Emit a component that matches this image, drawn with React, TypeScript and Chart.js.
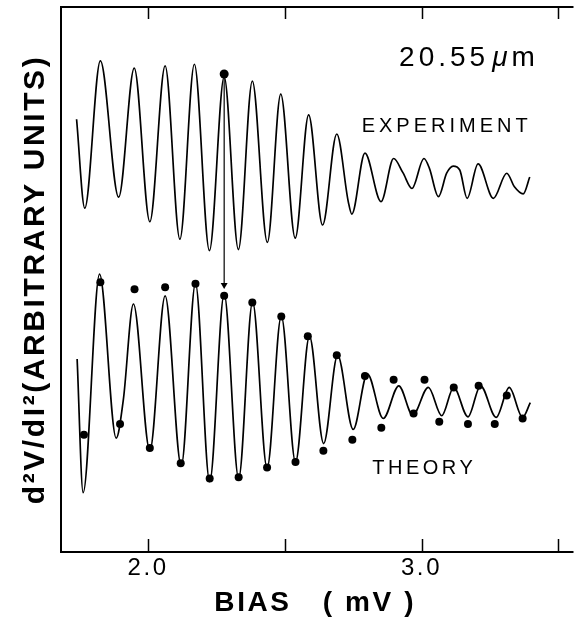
import React, { useEffect, useRef } from "react";
import { Chart, registerables } from "chart.js";

Chart.register(...registerables);

// ---- Data (bias in mV, signal in arbitrary units) ----
const experimentX = [1.738, 1.768, 1.825, 1.892, 1.949, 2.006, 2.062, 2.116, 2.169, 2.224, 2.278, 2.330, 2.381, 2.436, 2.485, 2.538, 2.587, 2.638, 2.690, 2.732, 2.745, 2.793, 2.852, 2.898, 2.932, 2.965, 3.009, 3.029, 3.062, 3.092, 3.116, 3.140, 3.167, 3.207, 3.263, 3.312, 3.340, 3.372, 3.396];
const experimentY = [7.94, 6.31, 9.01, 6.51, 8.88, 6.06, 8.92, 5.74, 8.95, 5.53, 8.72, 5.55, 8.64, 5.68, 8.40, 5.76, 8.02, 6.00, 7.67, 6.43, 6.20, 7.32, 6.43, 7.22, 6.96, 6.67, 7.22, 7.04, 6.52, 6.95, 7.08, 7.01, 6.49, 7.12, 6.49, 6.95, 6.70, 6.57, 6.88];

const theoryX = [1.740, 1.762, 1.822, 1.883, 1.909, 1.946, 2.006, 2.062, 2.121, 2.173, 2.225, 2.278, 2.331, 2.382, 2.435, 2.487, 2.539, 2.590, 2.642, 2.693, 2.750, 2.802, 2.860, 2.917, 2.968, 3.025, 3.074, 3.118, 3.170, 3.216, 3.273, 3.321, 3.370, 3.398];
const theoryY = [3.54, 1.09, 5.10, 2.09, 2.79, 4.55, 1.86, 4.70, 1.58, 4.93, 1.29, 4.73, 1.35, 4.59, 1.54, 4.33, 1.65, 3.96, 1.99, 3.61, 2.25, 3.27, 2.45, 3.05, 2.51, 3.02, 2.50, 3.02, 2.48, 3.05, 2.47, 3.02, 2.47, 2.74];

const theoryDotX = [1.765, 1.825, 1.897, 1.950, 2.006, 2.062, 2.119, 2.173, 2.225, 2.278, 2.331, 2.381, 2.435, 2.487, 2.539, 2.584, 2.641, 2.690, 2.747, 2.793, 2.853, 2.898, 2.971, 3.011, 3.065, 3.118, 3.170, 3.209, 3.268, 3.312, 3.370];
const theoryDotY = [2.15, 4.95, 2.35, 4.82, 1.91, 4.86, 1.63, 4.92, 1.35, 4.70, 1.37, 4.58, 1.55, 4.32, 1.65, 3.96, 1.86, 3.61, 2.06, 3.23, 2.28, 3.16, 2.54, 3.16, 2.39, 3.02, 2.35, 3.05, 2.35, 2.87, 2.45];

const markerX = [2.278];
const markerY = [8.77];

const arrowX = [2.278, 2.278];
const arrowY = [8.77, 4.90];

const xTickValues = [2.0, 2.5, 3.0, 3.5];
const xTickLabels = ["2.0", "", "3.0", ""];

const xTitle = "BIAS   ( mV )";
const yTitle = "d\u00B2V/dI\u00B2(ARBITRARY UNITS)";

// annotation anchors (data units)
const thicknessLabel = { x: 2.918, y: 8.92, main: "20.55", unitMu: "\u03BC", unitM: "m" };
const expLabel = { x: 2.781, y: 7.71, text: "EXPERIMENT" };
const theoryLabel = { x: 2.820, y: 1.44, text: "THEORY" };

const FONT = '"Liberation Sans", Arial, sans-serif';

const toXY = (xs: number[], ys: number[]) => xs.map((v, i) => ({ x: v, y: ys[i] }));

const framePlugin = {
  id: "frameAndText",
  beforeDraw(chart: any) {
    chart.ctx.letterSpacing = "2.6px";
  },
  afterDraw(chart: any) {
    const { ctx, chartArea } = chart;
    const { left, right, top, bottom } = chartArea;
    const xs = chart.scales.x;
    const ys = chart.scales.y;
    ctx.save();
    ctx.letterSpacing = "0px";
    ctx.strokeStyle = "#000";
    ctx.lineWidth = 2;
    ctx.beginPath();
    ctx.moveTo(right + 4, top);
    ctx.lineTo(left, top);
    ctx.lineTo(left, bottom);
    ctx.lineTo(right + 4, bottom);
    ctx.stroke();
    ctx.lineWidth = 1.5;
    ctx.beginPath();
    for (const v of xTickValues) {
      const px = Math.round(xs.getPixelForValue(v)) + 0.5;
      ctx.moveTo(px, bottom);
      ctx.lineTo(px, bottom - 13);
      ctx.moveTo(px, top);
      ctx.lineTo(px, top + 12);
    }
    ctx.stroke();

    ctx.fillStyle = "#000";
    ctx.textAlign = "left";
    ctx.textBaseline = "alphabetic";

    // 20.55 μm
    ctx.font = `28px ${FONT}`;
    ctx.letterSpacing = "4px";
    let px = xs.getPixelForValue(thicknessLabel.x);
    const py = ys.getPixelForValue(thicknessLabel.y);
    ctx.fillText(thicknessLabel.main, px, py);
    px += ctx.measureText(thicknessLabel.main).width + 3;
    ctx.font = `italic 28px ${FONT}`;
    ctx.fillText(thicknessLabel.unitMu, px, py);
    px += ctx.measureText(thicknessLabel.unitMu).width;
    ctx.font = `28px ${FONT}`;
    ctx.fillText(thicknessLabel.unitM, px, py);

    ctx.font = `20px ${FONT}`;
    ctx.letterSpacing = "4px";
    ctx.fillText(expLabel.text, xs.getPixelForValue(expLabel.x), ys.getPixelForValue(expLabel.y));
    ctx.letterSpacing = "3.5px";
    ctx.fillText(theoryLabel.text, xs.getPixelForValue(theoryLabel.x), ys.getPixelForValue(theoryLabel.y));
    ctx.restore();
  },
};

export default function App() {
  const ref = useRef<HTMLCanvasElement | null>(null);
  useEffect(() => {
    document.body.style.margin = "0";
    const canvas = ref.current;
    if (!canvas) return;
    const chart = new Chart(canvas, {
      type: "line",
      data: {
        datasets: [
          {
            label: "Experiment",
            data: toXY(experimentX, experimentY),
            borderColor: "#000",
            borderWidth: 1.7,
            pointRadius: 0,
            cubicInterpolationMode: "monotone",
            fill: false,
          },
          {
            label: "Theory",
            data: toXY(theoryX, theoryY),
            borderColor: "#000",
            borderWidth: 1.7,
            pointRadius: 0,
            cubicInterpolationMode: "monotone",
            fill: false,
          },
          {
            label: "Theory points",
            data: toXY(theoryDotX, theoryDotY),
            showLine: false,
            pointRadius: 4,
            pointBackgroundColor: "#000",
            pointBorderColor: "#000",
            pointBorderWidth: 0,
          },
          {
            label: "Marker",
            data: toXY(markerX, markerY),
            showLine: false,
            pointRadius: 4.5,
            pointBackgroundColor: "#000",
            pointBorderColor: "#000",
            pointBorderWidth: 0,
          },
          {
            label: "Arrow",
            data: toXY(arrowX, arrowY),
            borderColor: "#000",
            borderWidth: 1.2,
            pointRadius: [0, 4],
            pointStyle: "triangle",
            rotation: 180,
            pointBackgroundColor: "#000",
            pointBorderColor: "#000",
            pointBorderWidth: 0,
          },
        ],
      } as any,
      options: {
        animation: false,
        responsive: false,
        devicePixelRatio: 1,
        events: [],
        layout: { padding: { top: 7, right: 0, left: 0, bottom: 0 } },
        plugins: {
          legend: { display: false },
          tooltip: { enabled: false },
        },
        scales: {
          x: {
            type: "linear",
            position: "bottom",
            min: 1.681,
            max: 3.5415,
            grid: { display: false, drawTicks: false },
            border: { display: false },
            afterBuildTicks: (scale: any) => {
              scale.ticks = xTickValues.map((v) => ({ value: v }));
            },
            afterFit: (scale: any) => {
              scale.height = 65;
            },
            ticks: {
              color: "#000",
              padding: 2,
              maxRotation: 0,
              autoSkip: false,
              font: { family: FONT, size: 24, lineHeight: 1.2 },
              callback: (value: any) => {
                const i = xTickValues.indexOf(Number(value));
                return i >= 0 ? xTickLabels[i] : "";
              },
            },
            title: {
              display: true,
              text: xTitle,
              color: "#000",
              font: { family: FONT, size: 28, weight: "bold", lineHeight: 1 },
              padding: { top: 0, bottom: 0 },
            },
          },
          y: {
            type: "linear",
            min: 0,
            max: 10,
            grid: { display: false, drawTicks: false },
            border: { display: false },
            ticks: { display: false },
            afterFit: (scale: any) => {
              scale.width = 61;
            },
            title: {
              display: true,
              text: yTitle,
              color: "#000",
              font: { family: FONT, size: 30, weight: "bold", lineHeight: 1.2 },
              padding: { top: 18, bottom: 0 },
            },
          },
        },
      } as any,
      plugins: [framePlugin],
    });
    return () => chart.destroy();
  }, []);
  return <canvas ref={ref} width={574} height={617} style={{ display: "block" }} />;
}
